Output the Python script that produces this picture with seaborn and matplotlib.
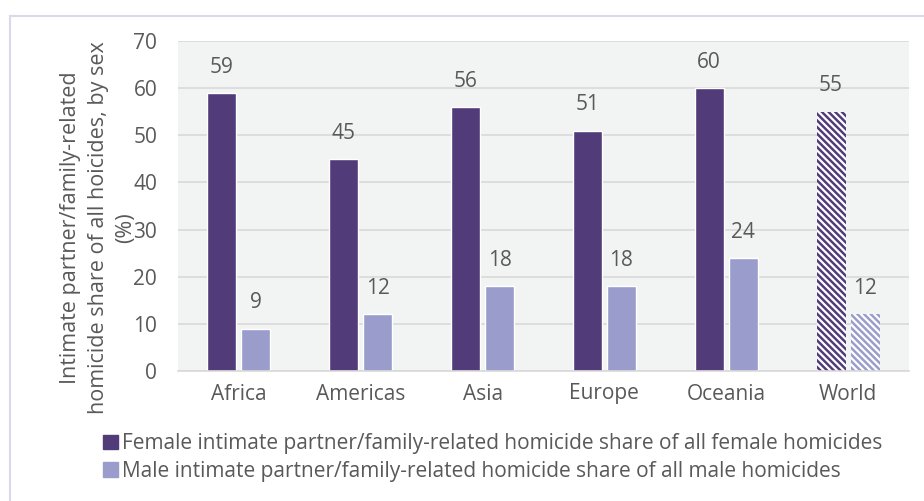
import numpy as np
import pandas as pd
import seaborn as sns
import matplotlib.pyplot as plt
from matplotlib.patches import Rectangle, Patch

regions = ['Africa', 'Americas', 'Asia', 'Europe', 'Oceania', 'World']
female_share = [59, 45, 56, 51, 60, 55]
male_share = [9, 12, 18, 18, 24, 12]
series_names = ['Female intimate partner/family-related homicide share of all female homicides',
                'Male intimate partner/family-related homicide share of all male homicides']

female_col = '#513B79'
male_col = '#9A9DCB'
text_col = '#595959'

df = pd.DataFrame({
    'region': regions * 2,
    'share': female_share + male_share,
    'sex': [series_names[0]] * len(regions) + [series_names[1]] * len(regions),
})

sns.set_style('white')
plt.rcParams['font.family'] = ['Open Sans', 'DejaVu Sans']
plt.rcParams['hatch.linewidth'] = 1.6

fig = plt.figure(figsize=(9.24, 5.01), dpi=100)
ax = fig.add_axes([178 / 924, 130 / 501, 731 / 924, 330 / 501])
ax.set_facecolor('#F2F3F3')

sns.barplot(data=df, x='region', y='share', hue='sex', order=regions,
            palette=[female_col, male_col], width=0.56, gap=0.15,
            saturation=1, legend=False, ax=ax)

# world bars are hatched
for cont in ax.containers:
    bar = cont.patches[-1]
    bar.set_hatch('\\\\\\\\\\')
    bar.set_edgecolor('white')
    bar.set_linewidth(0)
    ax.bar_label(cont, fmt='%d', padding=11, color=text_col, fontsize=15)

ax.set_xlim(-0.5, 5.5)
ax.set_ylim(0, 70)
ax.set_yticks(range(0, 71, 10))
ax.yaxis.grid(True, color='#D9D9D9', linewidth=1.2)
ax.set_axisbelow(True)
for s in ['top', 'right', 'left']:
    ax.spines[s].set_visible(False)
ax.spines['bottom'].set_color('#D9D9D9')
ax.spines['bottom'].set_linewidth(1.2)
ax.tick_params(axis='both', length=0, labelsize=15, labelcolor=text_col)
ax.tick_params(axis='y', pad=15)
ax.tick_params(axis='x', pad=9)
ax.set_xlabel('')
ax.set_ylabel('Intimate partner/family-related\nhomicide share of all hoicides, by sex\n(%)',
              fontsize=15.5, color=text_col, linespacing=1.4)
ax.yaxis.set_label_coords((136 - 178) / 731, (371 - 228) / 330)

handles = [Patch(color=female_col), Patch(color=male_col)]
fig.legend(handles, series_names, loc='upper left', bbox_to_anchor=(95 / 924, 1 - 425 / 501),
           frameon=False, handlelength=0.7, handleheight=0.7, handletextpad=0.2,
           labelspacing=0.3, fontsize=15, labelcolor=text_col, borderaxespad=0)

fig.add_artist(Rectangle((10 / 924, -0.05), 1.1, 1 - 16 / 501 + 0.05, transform=fig.transFigure,
                         fill=False, edgecolor='#D9D9EE', linewidth=1.5))

fig.savefig('out.png', dpi=100)
